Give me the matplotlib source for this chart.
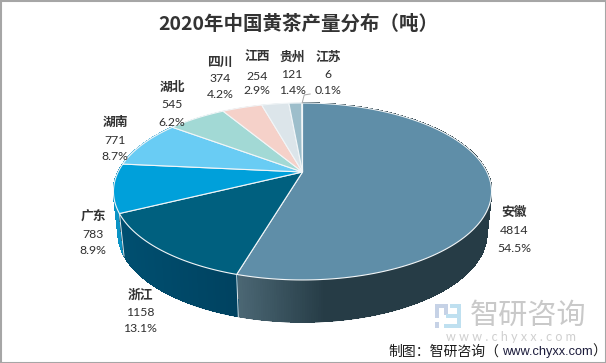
import numpy as np
import matplotlib
matplotlib.use("Agg")
import matplotlib.pyplot as plt
from matplotlib.patches import Polygon, Rectangle

CJK = "Noto Sans CJK SC"
NUM = "Lato"

categories = ["安徽", "浙江", "广东", "湖南", "湖北", "四川", "江西", "贵州", "江苏"]
values = [4814, 1158, 783, 771, 545, 374, 254, 121, 6]
top_colors = ["#5f8ea8", "#00607f", "#00a0da", "#69ccf4", "#a2d9d5", "#f5d1c9", "#dce5ea", "#9dbecb", "#7a9aa8"]
wall_left = ["#4a6673", "#004f70", "#0a94c6", "#5bb8dc", "#8cc4c0", "#dcbab3", "#c5ced3", "#8aa9b5", "#6c8a97"]
wall_right = ["#263c46", "#004260", "#0a86b4", "#5bb8dc", "#8cc4c0", "#dcbab3", "#c5ced3", "#8aa9b5", "#6c8a97"]
label_xy = [(514, 212), (140, 295), (93, 217), (115, 122), (172, 87), (220, 62), (257, 57), (292, 57), (328, 57)]
line_gaps = [(18, 37), (18, 34), (17, 33), (18, 35), (18, 35), (16, 33), (19, 34), (18, 34), (17, 33)]

CX, APEX_Y, RXP, RYP, K = 302.5, 172.0, 184.4, 84.2, 0.22
DEPTH, SHRINK = 42.5, 0.975


def project(t):
    X, Y = np.sin(t), -np.cos(t)
    d = 1 - K * Y
    return CX + RXP * X / d, APEX_Y + RYP * Y / d


def lower(x, y):
    return CX + SHRINK * (x - CX), y + DEPTH


def mix(c1, c2, f):
    a, b = np.array(matplotlib.colors.to_rgb(c1)), np.array(matplotlib.colors.to_rgb(c2))
    return tuple(a + (b - a) * f)


fig = plt.figure(figsize=(6.06, 3.63), dpi=100)
ax = fig.add_axes([0, 0, 1, 1])
ax.set_xlim(0, 606)
ax.set_ylim(363, 0)
ax.axis("off")

total = sum(values)
edges = 2 * np.pi * np.concatenate([[0], np.cumsum(values)]) / total

# side walls: antialiased underlay for a smooth outline, then gradient strips
order = sorted(range(len(values)), key=lambda i: -np.cos((edges[i] + edges[i + 1]) / 2))
for i in order:
    n = max(2, int((edges[i + 1] - edges[i]) / 0.01))
    ts = np.linspace(edges[i], edges[i + 1], n + 1)
    px, py = project(ts)
    qx, qy = lower(px, py)
    mid = mix(wall_left[i], wall_right[i], 0.7 if i == 0 else 0.5)
    ax.add_patch(Polygon(list(zip(px, py)) + list(zip(qx, qy))[::-1], closed=True,
                         fc=mid, ec=mid, lw=0.3, zorder=2))
    xs0, xs1 = px.min(), px.max()
    if np.cos((edges[i] + edges[i + 1]) / 2) > 0.5:
        continue
    for j in range(n):
        xm = (px[j] + px[j + 1]) / 2
        f = np.clip((xm - 239) / 85, 0, 1) if i == 0 else (xm - xs0) / max(1, xs1 - xs0)
        c = mix(wall_left[i], wall_right[i], f)
        strip = [(px[j], py[j]), (px[j + 1], py[j + 1]),
                 (qx[j + 1], qy[j + 1] - 0.6), (qx[j], qy[j] - 0.6)]
        ax.add_patch(Polygon(strip, closed=True, fc=c, ec=c, lw=0.5, antialiased=False, zorder=2.5))

# seams on the visible walls
for e in edges[1:3]:
    x, y = project(e)
    x2, y2 = lower(x, y)
    ax.plot([x, x2], [y, y2], color="#dfe8ec", lw=0.7, zorder=3)

# top faces
for i in range(len(values)):
    n = max(2, int((edges[i + 1] - edges[i]) / 0.01))
    ts = np.linspace(edges[i], edges[i + 1], n + 1)
    px, py = project(ts)
    pts = [(CX, APEX_Y)] + list(zip(px, py))
    ax.add_patch(Polygon(pts, closed=True, fc=top_colors[i], ec="#f2f6f8", lw=0.8,
                         joinstyle="round", zorder=4))

# labels
for name, v, (lx, ly), (g1, g2) in zip(categories, values, label_xy, line_gaps):
    ax.text(lx, ly, name, family=CJK, fontweight="bold", fontsize=9.2, color="#333333",
            ha="center", va="center", zorder=6)
    ax.text(lx, ly + g1, f"{v}", family=NUM, fontsize=8.8, color="#2f2f2f",
            ha="center", va="center", zorder=6)
    ax.text(lx, ly + g2, f"{v / total:.1%}", family=NUM, fontsize=8.8, color="#2f2f2f",
            ha="center", va="center", zorder=6)

# leader line for the smallest slice
tx, ty = project((edges[-2] + edges[-1]) / 2)
ax.plot([tx, tx + 2, tx + 8], [ty, ty - 8, ty - 9], color="#a6a6a6", lw=0.7, zorder=5)

ax.text(298, 24, "2020年中国黄茶产量分布（吨）", family=CJK, fontweight="bold", fontsize=14,
        color="#333333", ha="center", va="center")

# watermark
for (x0, y0, w, h) in [(435, 304, 12, 4), (435, 304, 4, 14), (444, 304, 4, 11), (435, 322, 4, 6)]:
    ax.add_patch(Rectangle((x0, y0), w, h, fc="#c6d2e6", ec="none", zorder=1))
for (x0, y0, w, h) in [(450, 304, 11, 4), (457, 304, 4, 24), (446, 314, 11, 4), (444, 324, 17, 4)]:
    ax.add_patch(Rectangle((x0, y0), w, h, fc="#bfe0f0", ec="none", zorder=1))
ax.text(528, 316, "智研咨询", family=CJK, fontsize=21, color="#c9c9c9", ha="center", va="center", zorder=1)
ax.text(511, 337, "w w w . c h y x x . c o m", family=NUM, fontsize=9, color="#cfcfcf",
        ha="center", va="center", zorder=1)

# source line: three pieces so the Latin part keeps its narrower width
ax.text(388, 352, "制图：智研咨询（", family=CJK, fontsize=10, color="#1a1a1a", ha="left", va="center", zorder=7)
ax.text(502, 352, "www.chyxx.com", family="Liberation Sans", fontsize=9.2, color="#1a1a3a", ha="left", va="center", zorder=7)
ax.text(592, 352, "）", family=CJK, fontsize=10, color="#1a1a1a", ha="left", va="center", zorder=7)

ax.add_patch(Rectangle((0.5, 0.5), 605, 362, fc="none", ec="#a6a6a6", lw=1.5, zorder=8))

fig.savefig("out.png", dpi=100)
